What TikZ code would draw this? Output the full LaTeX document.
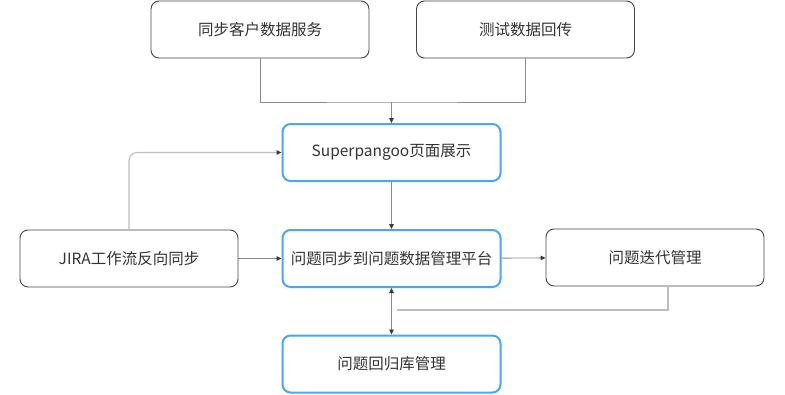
\documentclass[tikz,border=0pt]{standalone}
\usepackage{fontspec}
\setmainfont{Noto Sans CJK SC}
\usetikzlibrary{arrows.meta}
\definecolor{boxgray}{HTML}{444444}
\definecolor{boxblue}{HTML}{4DA6F2}
\definecolor{linegray}{HTML}{8A8A8A}
\definecolor{lightgray}{HTML}{BDBDBD}
\definecolor{tipgray}{HTML}{3A3A3A}
\definecolor{txtgray}{HTML}{333333}

\begin{document}
\begin{tikzpicture}[x=1pt,y=-1pt,
  box/.style={draw=boxgray,line width=0.9pt,rounded corners=8pt,
    minimum width=218pt,minimum height=57pt,inner sep=0pt,
    text=txtgray,font=\fontsize{15.5}{18}\selectfont},
  bluebox/.style={box,draw=boxblue,line width=2pt},
  tip/.tip={Triangle[length=5pt,width=4.5pt,color=tipgray]},
  link/.style={draw=linegray,line width=0.9pt,-tip},
  softlink/.style={link,draw=lightgray,line width=1.1pt}]
  \useasboundingbox (0,0) rectangle (785,394);

  \node[box] (sync) at (260,29.5) {同步客户数据服务};
  \node[box] (test) at (525.5,29.5) {测试数据回传};
  \node[bluebox] (show) at (391.5,152.5) {Superpangoo页面展示};
  \node[box] (jira) at (129,258.5) {JIRA工作流反向同步};
  \node[bluebox] (plat) at (391.5,258.5) {问题同步到问题数据管理平台};
  \node[box] (iter) at (655,257.5) {问题迭代管理};
  \node[bluebox] (regr) at (391.5,364) {问题回归库管理};

  \coordinate (join) at (391.5,102);
  \coordinate (back) at (397,310);

  % top sources merge into the display page
  \draw[draw=linegray,line width=0.9pt] (sync.south) |- (join) -| (test.south);
  \draw[link] (join) -- (show.north);
  \draw[link] (show) -- (plat);

  % jira
  \draw[softlink,rounded corners=8pt] (jira.north) |- (show.west);
  \draw[link] (jira) -- (plat);

  \draw[link] (plat) -- (iter);
  \draw[link,tip-tip] (plat) -- (regr);
  \draw[softlink,-] ([xshift=13pt]iter.south) |- (back);
\end{tikzpicture}
\end{document}
